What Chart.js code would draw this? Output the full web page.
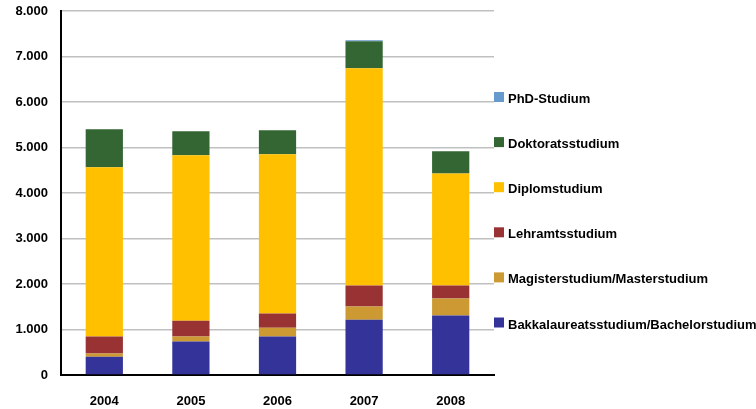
<!DOCTYPE html>
<html>
<head>
<meta charset="utf-8">
<script src="https://cdn.jsdelivr.net/npm/chart.js@4.4.1/dist/chart.umd.min.js"></script>
<style>
  body { margin: 0; background: #fff; }
  #box { width: 756px; height: 409px; }
</style>
</head>
<body>
<div id="box"><canvas id="grafico"></canvas></div>
<script>
// datos
const jahre = ['2004', '2005', '2006', '2007', '2008'];
const bachelor = [400, 735, 845, 1215, 1305];
const master = [70, 110, 195, 290, 375];
const lehramt = [375, 350, 310, 460, 285];
const diplom = [3720, 3635, 3500, 4775, 2465];
const doktorat = [835, 525, 530, 595, 485];
const phd = [0, 0, 0, 20, 0];

const serien = [
    { label: 'Bakkalaureatsstudium/Bachelorstudium', data: bachelor, color: '#333399' },
    { label: 'Magisterstudium/Masterstudium', data: master, color: '#CC9933' },
    { label: 'Lehramtsstudium', data: lehramt, color: '#993333' },
    { label: 'Diplomstudium', data: diplom, color: '#FFC000' },
    { label: 'Doktoratsstudium', data: doktorat, color: '#336633' },
    { label: 'PhD-Studium', data: phd, color: '#6699CC' }
];

const fuente = { family: '"Liberation Sans", Arial, sans-serif', size: 13, weight: 'bold' };

// 8000 -> "8.000"
function formatoMiles(v) {
    return String(v).replace(/\B(?=(\d{3})+(?!\d))/g, '.');
}

// leyenda propia a la derecha del area (orden invertido como en el original)
const leyenda = {
    id: 'leyenda',
    afterDraw(chart) {
        const ctx = chart.ctx;
        const area = chart.chartArea;
        const ds = chart.data.datasets;
        ctx.save();
        ctx.font = 'bold 13px "Liberation Sans", Arial, sans-serif';
        ctx.textBaseline = 'alphabetic';
        ctx.textAlign = 'left';
        for (let i = 0; i < ds.length; i++) {
            const d = ds[ds.length - 1 - i];
            const y = area.top + 81 + i * 45.1;
            ctx.fillStyle = d.backgroundColor;
            ctx.fillRect(area.right, y, 10, 10);
            ctx.fillStyle = '#000';
            ctx.fillText(d.label, area.right + 14, y + 11);
        }
        ctx.restore();
    }
};

new Chart(document.getElementById('grafico'), {
    type: 'bar',
    plugins: [leyenda],
    data: {
        labels: jahre,
        datasets: serien.map(s => ({
            label: s.label,
            data: s.data,
            backgroundColor: s.color,
            borderWidth: 0,
            categoryPercentage: 1,
            barPercentage: 0.43
        }))
    },
    options: {
        responsive: true,
        maintainAspectRatio: false,
        animation: false,
        layout: { padding: { top: 11, right: 262, left: 0, bottom: 0 } },
        plugins: {
            legend: { display: false },
            tooltip: { enabled: false }
        },
        scales: {
            x: {
                stacked: true,
                grid: { display: false },
                border: { display: true, color: '#000', width: 2 },
                ticks: { color: '#000', font: fuente, padding: 11, maxRotation: 0 },
                afterFit(s) { s.height = 34; s.paddingLeft = 0; s.paddingRight = 0; }
            },
            y: {
                stacked: true,
                min: 0,
                max: 8000,
                grid: { color: '#c0c0c0', lineWidth: 1.5, drawTicks: false },
                border: { display: true, color: '#000', width: 2 },
                ticks: { stepSize: 1000, color: '#000', font: fuente, padding: 13, callback: v => formatoMiles(v) },
                afterFit(s) { s.width = 61; s.paddingTop = 0; s.paddingBottom = 0; }
            }
        }
    }
});
</script>
</body>
</html>
